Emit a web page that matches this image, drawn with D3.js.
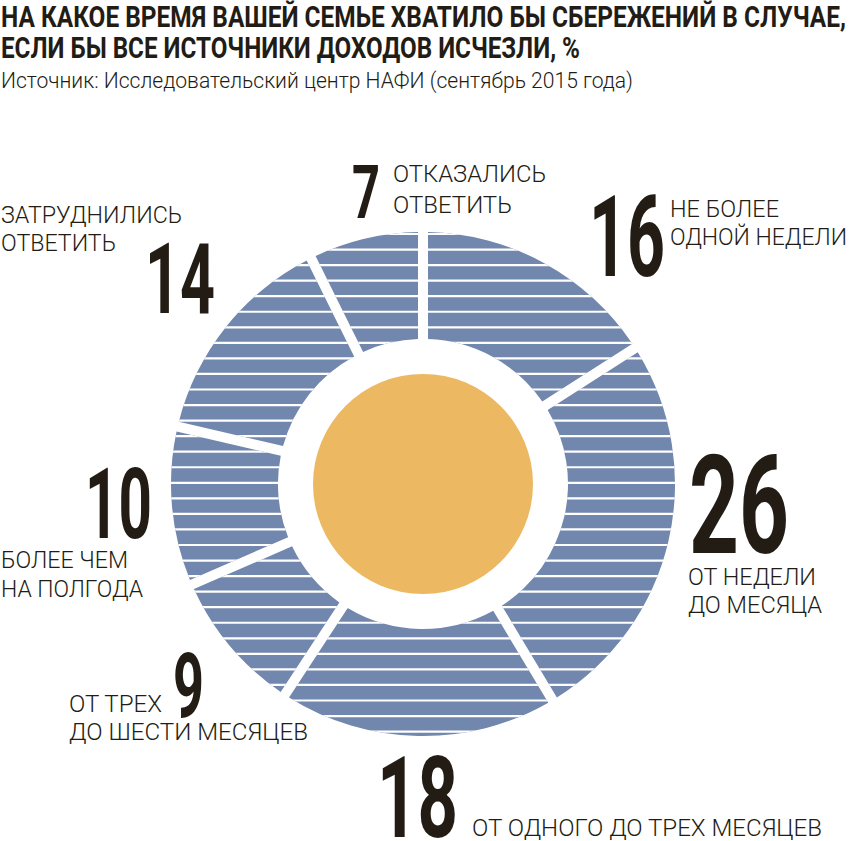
<!DOCTYPE html>
<html><head><meta charset="utf-8">
<script src="https://cdn.jsdelivr.net/npm/d3@7"></script>
<style>
html,body{margin:0;padding:0;background:#fff;}
svg{display:block;}
</style>
</head><body>
<svg id="chart" width="850" height="841"></svg>
<script>
// ---- data ----
const titleLines = ["НА КАКОЕ ВРЕМЯ ВАШЕЙ СЕМЬЕ ХВАТИЛО БЫ СБЕРЕЖЕНИЙ В СЛУЧАЕ,", "ЕСЛИ БЫ ВСЕ ИСТОЧНИКИ ДОХОДОВ ИСЧЕЗЛИ, %"];
const sourceText = "Источник: Исследовательский центр НАФИ (сентябрь 2015 года)";
const categories = [
  ["НЕ БОЛЕЕ", "ОДНОЙ НЕДЕЛИ"],
  ["ОТ НЕДЕЛИ", "ДО МЕСЯЦА"],
  ["ОТ ОДНОГО ДО ТРЕХ МЕСЯЦЕВ"],
  ["ОТ ТРЕХ", "ДО ШЕСТИ МЕСЯЦЕВ"],
  ["БОЛЕЕ ЧЕМ", "НА ПОЛГОДА"],
  ["ЗАТРУДНИЛИСЬ", "ОТВЕТИТЬ"],
  ["ОТКАЗАЛИСЬ", "ОТВЕТИТЬ"]
];
const values = [16, 26, 18, 9, 10, 14, 7];

// ---- layout (positions of annotations) ----
const numLayout = [
  {x: 589, base: 276, w: 76, h: 80},
  {x: 689, base: 553, w: 100, h: 98},
  {x: 377, base: 837, w: 81, h: 81},
  {x: 173, base: 717, w: 31, h: 64},
  {x: 85,  base: 538, w: 67, h: 70},
  {x: 145, base: 313, w: 70, h: 70},
  {x: 352, base: 218, w: 28, h: 53}
];
const lineLayout = [
  [{x: 670, base: 217, w: 109}, {x: 670, base: 245, w: 177}],
  [{x: 688, base: 585, w: 128}, {x: 688, base: 613, w: 134}],
  [{x: 472, base: 836, w: 350}],
  [{x: 69, base: 712, w: 93}, {x: 69, base: 740, w: 239}],
  [{x: 1, base: 568, w: 127}, {x: 1, base: 597, w: 142}],
  [{x: 1, base: 223, w: 181}, {x: 1, base: 251, w: 115}],
  [{x: 393, base: 182, w: 153}, {x: 393, base: 213, w: 119}]
];

const W = 850, H = 841;
const cx = 423, cy = 484, R = 252, r0 = 145, rCore = 110;
const BLUE = "#7287ae", ORANGE = "#ecb862", INK = "#221c14";
const capRatio = 0.711;

const svg = d3.select("#chart");

// title
svg.selectAll("text.title").data(titleLines).join("text")
  .attr("class", "title")
  .attr("x", 1).attr("y", (d, i) => 27 + i * 31)
  .attr("font-family", "Roboto, 'DejaVu Sans', sans-serif")
  .attr("font-weight", 700).attr("font-size", 29.5)
  .attr("fill", INK)
  .attr("textLength", (d, i) => i === 0 ? 845 : 579)
  .attr("lengthAdjust", "spacingAndGlyphs")
  .text(d => d);

svg.append("text")
  .attr("x", 1).attr("y", 88)
  .attr("font-family", "Roboto, 'DejaVu Sans', sans-serif")
  .attr("font-weight", 300).attr("font-size", 22)
  .attr("fill", INK)
  .attr("textLength", 632).attr("lengthAdjust", "spacingAndGlyphs")
  .text(sourceText);

// donut
const pie = d3.pie().sort(null).value(d => d).startAngle(0).endAngle(2 * Math.PI).padAngle(0.04);
const arc = d3.arc().innerRadius(r0).outerRadius(R).padRadius(250);
const arcs = pie(values);

const g = svg.append("g").attr("transform", `translate(${cx},${cy})`);

svg.append("defs").append("clipPath").attr("id", "donutClip")
  .selectAll("path").data(arcs).join("path").attr("d", arc);

g.selectAll("path.seg").data(arcs).join("path")
  .attr("class", "seg")
  .attr("d", arc)
  .attr("fill", BLUE);

// horizontal stripes
const stripeY = d3.range(-7, 27).map(k => 327.3 + k * 15.55 - cy);
g.append("g").attr("clip-path", "url(#donutClip)")
  .selectAll("line").data(stripeY).join("line")
  .attr("x1", -R - 2).attr("x2", R + 2)
  .attr("y1", d => d).attr("y2", d => d)
  .attr("stroke", "#ffffff").attr("stroke-width", 2.2);

g.append("circle").attr("r", rCore).attr("fill", ORANGE);

// number labels
svg.selectAll("text.num").data(values).join("text")
  .attr("class", "num")
  .attr("x", (d, i) => numLayout[i].x)
  .attr("y", (d, i) => numLayout[i].base)
  .attr("font-family", "Roboto, 'DejaVu Sans', sans-serif")
  .attr("font-weight", 700)
  .attr("font-size", (d, i) => numLayout[i].h / capRatio)
  .attr("textLength", (d, i) => numLayout[i].w)
  .attr("lengthAdjust", "spacingAndGlyphs")
  .attr("fill", INK)
  .text(d => d);

// category labels
const lines = [];
categories.forEach((c, i) => c.forEach((t, j) => lines.push({t, ...lineLayout[i][j]})));
svg.selectAll("text.cat").data(lines).join("text")
  .attr("class", "cat")
  .attr("x", d => d.x).attr("y", d => d.base)
  .attr("font-family", "Roboto, 'DejaVu Sans', sans-serif")
  .attr("font-weight", 300)
  .attr("font-size", 23.5)
  .attr("textLength", d => d.w)
  .attr("lengthAdjust", "spacingAndGlyphs")
  .attr("fill", INK)
  .text(d => d.t);
</script>
</body></html>
